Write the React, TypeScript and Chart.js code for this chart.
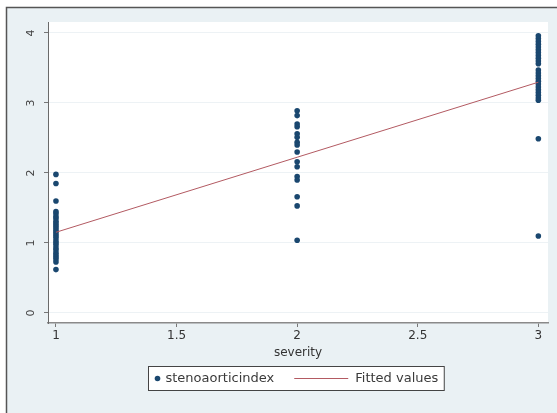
import { useEffect, useRef } from 'react';
import { Chart, registerables } from 'chart.js';

Chart.register(...registerables);

// ---- data ----
const severityLevels = [1, 2, 3];
const indexSeverity1 = [1.98, 1.85, 1.6, 1.45, 1.42, 1.38, 1.35, 1.31, 1.28, 1.25, 1.22, 1.19, 1.16, 1.13, 1.1, 1.07, 1.03, 1.0, 0.97, 0.93, 0.9, 0.86, 0.83, 0.8, 0.77, 0.73, 0.62];
const indexSeverity2 = [2.89, 2.82, 2.7, 2.66, 2.56, 2.51, 2.44, 2.4, 2.3, 2.16, 2.09, 1.95, 1.9, 1.66, 1.53, 1.04];
const indexSeverity3 = [3.96, 3.92, 3.88, 3.84, 3.8, 3.76, 3.72, 3.68, 3.64, 3.6, 3.56, 3.47, 3.43, 3.39, 3.35, 3.31, 3.27, 3.23, 3.19, 3.15, 3.11, 3.07, 3.04, 2.49, 1.1];
const fittedX = [1, 2, 3];
const fittedY = [1.153, 2.225, 3.297];
const xTicks = [1, 1.5, 2, 2.5, 3];
const xTickLabels = ['1', '1.5', '2', '2.5', '3'];
const yTicks = [0, 1, 2, 3, 4];
const yTickLabels = ['0', '1', '2', '3', '4'];
const scatterLabel = 'stenoaorticindex';
const fittedLabel = 'Fitted values';
const xTitle = 'severity';

const NAVY = '#1a476f';
const MAROON = '#b35a62';
const BG = '#eaf1f4';
const FONT = '"DejaVu Sans", "Liberation Sans", sans-serif';

export default function App() {
  const ref = useRef<HTMLCanvasElement | null>(null);

  useEffect(() => {
    document.body.style.margin = '0';
    const canvas = ref.current;
    if (!canvas) return;

    const groups = [indexSeverity1, indexSeverity2, indexSeverity3];
    const scatterPoints: { x: number; y: number }[] = [];
    groups.forEach((vals, i) => {
      vals.forEach((v) => scatterPoints.push({ x: severityLevels[i], y: v }));
    });
    const fittedPoints = fittedX.map((x, i) => ({ x, y: fittedY[i] }));

    const framePlugin = {
      id: 'stataFrame',
      beforeDraw(chart: any) {
        const { ctx, width, height, chartArea } = chart;
        ctx.save();
        ctx.fillStyle = '#ffffff';
        ctx.fillRect(0, 0, width, height);
        ctx.fillStyle = BG;
        ctx.fillRect(6, 7, width - 6, height - 7);
        ctx.fillStyle = '#ffffff';
        ctx.fillRect(chartArea.left, chartArea.top, chartArea.right - chartArea.left, chartArea.bottom - chartArea.top);
        ctx.strokeStyle = '#555555';
        ctx.lineWidth = 1.5;
        ctx.beginPath();
        ctx.moveTo(6.5, height);
        ctx.lineTo(6.5, 7.5);
        ctx.lineTo(width, 7.5);
        ctx.stroke();
        ctx.restore();
      },
      afterDraw(chart: any) {
        const { ctx, chartArea } = chart;
        const ds = chart.data.datasets;
        ctx.save();
        ctx.font = '13px ' + FONT;
        const t1 = ds[0].label as string;
        const t2 = ds[1].label as string;
        const w1 = ctx.measureText(t1).width;
        const w2 = ctx.measureText(t2).width;
        const padX = 6;
        const dotW = 6;
        const gap1 = 5;
        const mid = 20;
        const lineW = 54;
        const gap2 = 7;
        const total = padX + dotW + gap1 + w1 + mid + lineW + gap2 + w2 + padX;
        const cx = (chartArea.left + chartArea.right) / 2 - 2;
        const left = Math.round(cx - total / 2) + 0.5;
        const top = 366.5;
        const h = 24;
        ctx.fillStyle = '#ffffff';
        ctx.fillRect(left, top, total, h);
        ctx.strokeStyle = '#444444';
        ctx.lineWidth = 1;
        ctx.strokeRect(left, top, total, h);
        const cy = top + h / 2;
        let x = left + padX;
        ctx.fillStyle = NAVY;
        ctx.beginPath();
        ctx.arc(x + dotW / 2, cy, 2.8, 0, Math.PI * 2);
        ctx.fill();
        x += dotW + gap1;
        ctx.fillStyle = '#3a3a3a';
        ctx.textBaseline = 'middle';
        ctx.textAlign = 'left';
        ctx.fillText(t1, x, cy);
        x += w1 + mid;
        ctx.strokeStyle = MAROON;
        ctx.lineWidth = 1;
        ctx.beginPath();
        ctx.moveTo(x, cy);
        ctx.lineTo(x + lineW, cy);
        ctx.stroke();
        x += lineW + gap2;
        ctx.fillStyle = '#3a3a3a';
        ctx.fillText(t2, x, cy);
        ctx.restore();
      },
    };

    const chart = new Chart(canvas, {
      type: 'scatter',
      data: {
        datasets: [
          {
            label: scatterLabel,
            data: scatterPoints,
            backgroundColor: NAVY,
            borderColor: NAVY,
            pointRadius: 2.8,
            pointBorderWidth: 0,
            showLine: false,
            order: 2,
          },
          {
            type: 'line',
            label: fittedLabel,
            data: fittedPoints,
            borderColor: MAROON,
            borderWidth: 1,
            pointRadius: 0,
            fill: false,
            order: 1,
          } as any,
        ],
      },
      options: {
        responsive: false,
        animation: false,
        layout: { padding: { left: 0, top: 22, right: 9, bottom: 52 } },
        plugins: {
          legend: { display: false },
          tooltip: { enabled: false },
        },
        scales: {
          x: {
            type: 'linear',
            min: 0.967,
            max: 3.04,
            afterBuildTicks: (s: any) => {
              s.ticks = xTicks.map((v) => ({ value: v }));
            },
            afterFit: (s: any) => {
              s.height = 38;
            },
            ticks: {
              callback: (v: any) => xTickLabels[xTicks.indexOf(Number(v))] ?? '',
              font: { family: FONT, size: 12 },
              color: '#333333',
              padding: 2,
              maxRotation: 0,
              autoSkip: false,
            },
            grid: { drawOnChartArea: false, drawTicks: true, tickLength: 4, tickColor: '#777777' },
            border: { color: '#8a8a8a', width: 1.5 },
            title: {
              display: true,
              text: xTitle,
              font: { family: FONT, size: 12 },
              color: '#333333',
              padding: { top: 0, bottom: 1 },
            },
          },
          y: {
            type: 'linear',
            min: -0.143,
            max: 4.157,
            afterBuildTicks: (s: any) => {
              s.ticks = yTicks.map((v) => ({ value: v }));
            },
            afterFit: (s: any) => {
              s.width = 48;
            },
            ticks: {
              callback: (v: any) => yTickLabels[yTicks.indexOf(Number(v))] ?? '',
              font: { family: FONT, size: 11 },
              color: '#444444',
              minRotation: 90,
              maxRotation: 90,
              crossAlign: 'center',
              padding: 9,
              autoSkip: false,
            },
            grid: { color: '#edf2f5', lineWidth: 1, drawTicks: true, tickLength: 4, tickColor: '#777777' },
            border: { color: '#6a6a6a', width: 1 },
          },
        },
      },
      plugins: [framePlugin],
    });

    return () => chart.destroy();
  }, []);

  return <canvas ref={ref} width={557} height={413} style={{ display: 'block' }} />;
}
